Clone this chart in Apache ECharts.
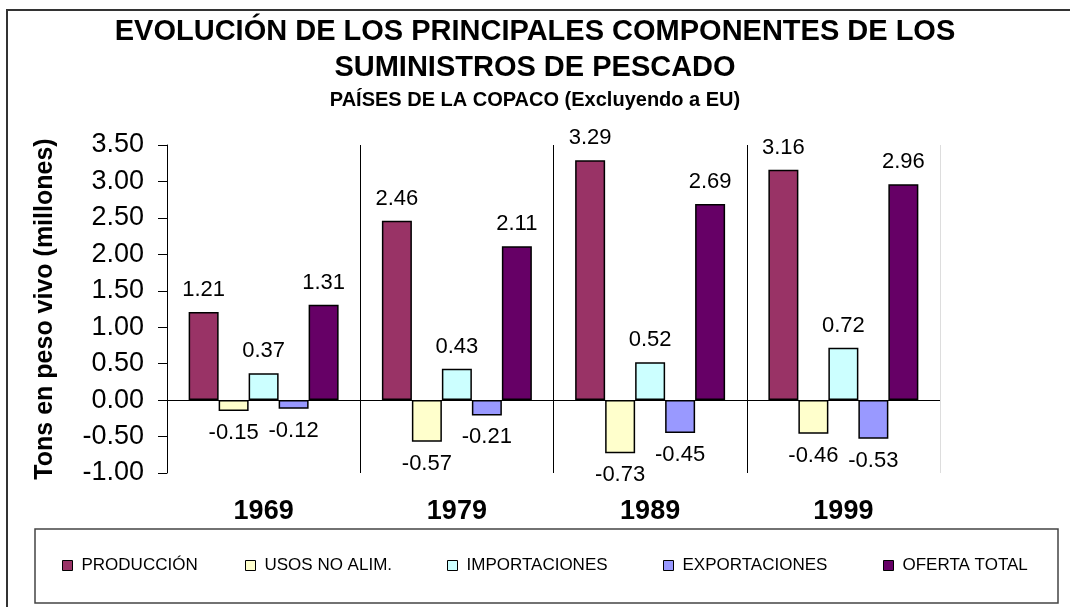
<!DOCTYPE html>
<html>
<head>
<meta charset="utf-8">
<script src="https://cdn.jsdelivr.net/npm/echarts@6/dist/echarts.min.js"></script>
<style>
html,body{margin:0;padding:0;background:#fff;}
#main{width:1070px;height:607px;}
</style>
</head>
<body>
<div id="main"></div>
<script>
// datos
const years = ["1969", "1979", "1989", "1999"];
const produccion = [1.21, 2.46, 3.29, 3.16];
const usosNoAlim = [-0.15, -0.57, -0.73, -0.46];
const importaciones = [0.37, 0.43, 0.52, 0.72];
const exportaciones = [-0.12, -0.21, -0.45, -0.53];
const ofertaTotal = [1.31, 2.11, 2.69, 2.96];
const seriesNames = ["PRODUCCIÓN", "USOS NO ALIM.", "IMPORTACIONES", "EXPORTACIONES", "OFERTA TOTAL"];
const yMin = -1, yMax = 3.5, yStep = 0.5;

const font = 'Arial, "Liberation Sans", sans-serif';
const colors = ["#993366", "#FFFFCC", "#CCFFFF", "#9999FF", "#660066"];
const values = [produccion, usosNoAlim, importaciones, exportaciones, ofertaTotal];

let myChart = echarts.init(document.getElementById("main"));

let series = [];
for (let i = 0; i < values.length; i++) {
    let neg = values[i][0] < 0;
    let s = {
        name: seriesNames[i],
        type: "bar",
        data: values[i],
        barGap: "0%",
        barCategoryGap: "22.4%",
        itemStyle: {color: colors[i], borderColor: "#000", borderWidth: 1.5},
        label: {
            show: true,
            position: neg ? "bottom" : "top",
            distance: 11,
            fontFamily: font,
            fontSize: 22,
            color: "#000",
            formatter: function (p) { return p.value.toFixed(2); }
        }
    };
    if (i === values.length - 1) {
        // linea del cero
        s.markLine = {
            silent: true,
            symbol: "none",
            label: {show: false},
            lineStyle: {color: "#000", width: 1, type: "solid"},
            data: [{yAxis: 0}]
        };
    }
    series.push(s);
}

// leyendas separadas, una por serie
const legendLeft = [62, 245, 447, 663, 883];
let legends = [];
for (let i = 0; i < seriesNames.length; i++) {
    legends.push({
        data: [seriesNames[i]],
        left: legendLeft[i],
        top: 557,
        padding: 0,
        itemWidth: 10,
        itemHeight: 10,
        icon: "rect",
        itemStyle: {borderColor: "#000", borderWidth: 1},
        textStyle: {fontFamily: font, fontSize: 17, color: "#000", padding: [0, 0, 0, 4]}
    });
}

myChart.setOption({
    animation: false,
    title: [
        {
            text: "EVOLUCIÓN DE LOS PRINCIPALES COMPONENTES DE LOS\nSUMINISTROS DE PESCADO",
            left: "center",
            top: 14,
            padding: 0,
            textStyle: {fontFamily: font, fontSize: 29, fontWeight: "bold", color: "#000", lineHeight: 36}
        },
        {
            text: "PAÍSES DE LA COPACO (Excluyendo a EU)",
            left: "center",
            top: 90,
            padding: 0,
            textStyle: {fontFamily: font, fontSize: 20, fontWeight: "bold", color: "#000"}
        }
    ],
    legend: legends,
    grid: {left: 167, right: 130, top: 145, bottom: 134},
    xAxis: {
        type: "category",
        data: years,
        axisLine: {show: false},
        axisTick: {show: false},
        axisLabel: {margin: 25, fontFamily: font, fontSize: 27, fontWeight: "bold", color: "#000"},
        splitLine: {show: true, lineStyle: {color: ["#000", "#000", "#000", "#000", "#ddd"], width: 1}}
    },
    yAxis: {
        type: "value",
        min: yMin,
        max: yMax,
        interval: yStep,
        name: "Tons en peso vivo (millones)",
        nameLocation: "middle",
        nameRotate: 90,
        nameGap: 109,
        nameTextStyle: {fontFamily: font, fontSize: 25, fontWeight: "bold", color: "#000"},
        axisLine: {show: true, lineStyle: {color: "#000", width: 1}},
        axisTick: {show: true, length: 9, lineStyle: {color: "#000"}},
        axisLabel: {margin: 23, fontFamily: font, fontSize: 27, color: "#000",
            formatter: function (v) { return v.toFixed(2); }},
        splitLine: {show: false}
    },
    graphic: [
        {type: "rect", shape: {x: 7, y: 10, width: 1080, height: 620},
            style: {fill: "none", stroke: "#333", lineWidth: 2}},
        {type: "rect", shape: {x: 35, y: 529, width: 1023, height: 74},
            style: {fill: "none", stroke: "#444", lineWidth: 1.5}}
    ],
    series: series
});
</script>
</body>
</html>
